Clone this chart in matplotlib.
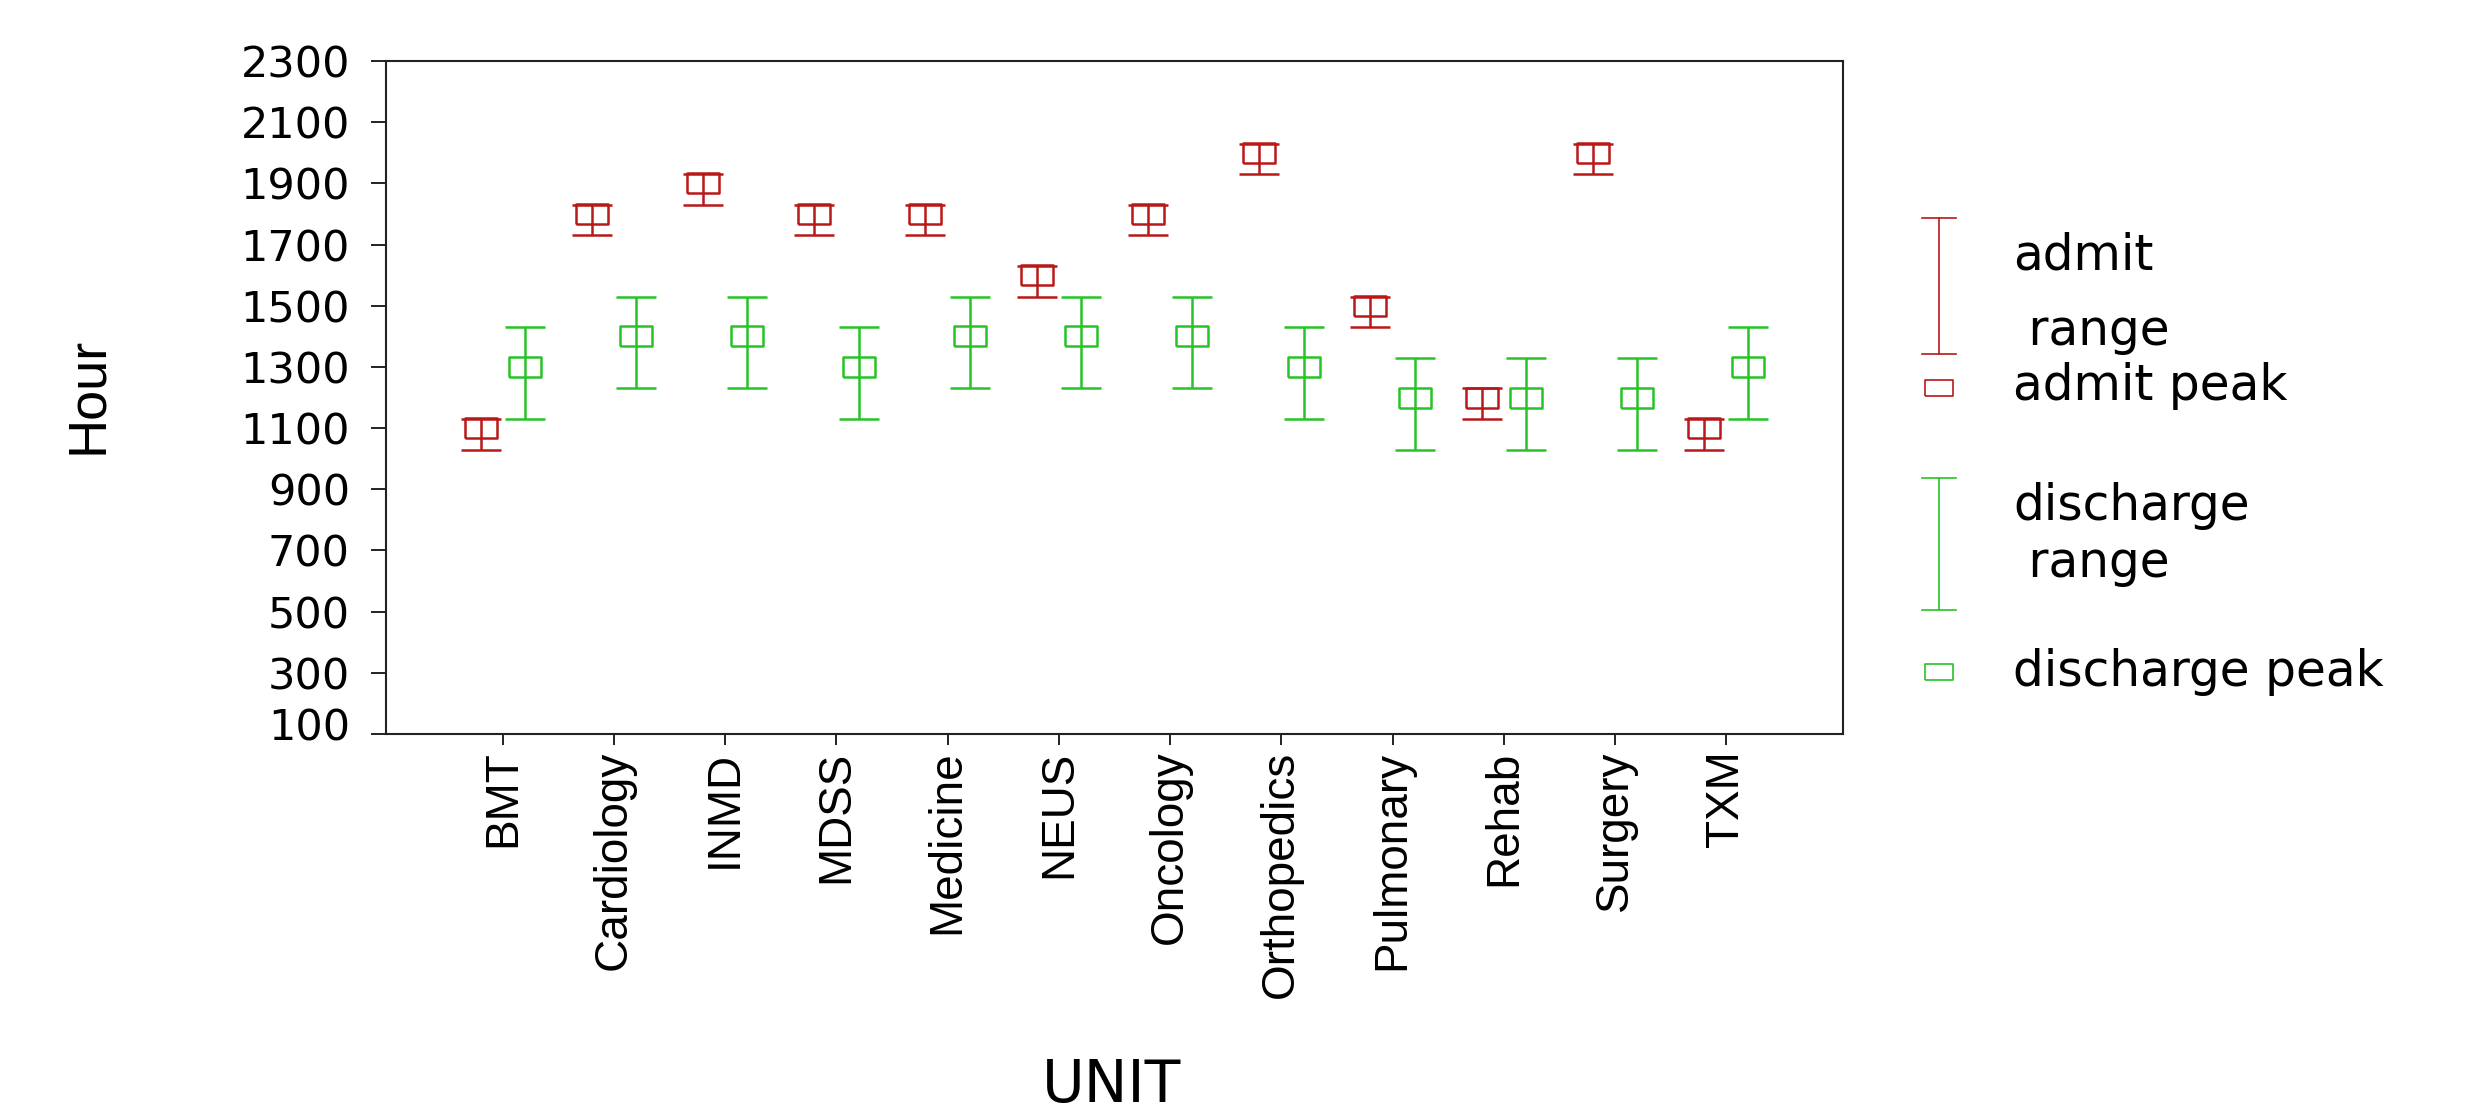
import matplotlib
matplotlib.use("Agg")
import matplotlib.pyplot as plt
from matplotlib.lines import Line2D
from matplotlib.transforms import ScaledTranslation
import numpy as np

# data
units = ["BMT", "Cardiology", "INMD", "MDSS", "Medicine", "NEUS", "Oncology",
         "Orthopedics", "Pulmonary", "Rehab", "Surgery", "TXM"]
admit_peak = [1100, 1800, 1900, 1800, 1800, 1600, 1800, 2000, 1500, 1200, 2000, 1100]
admit_low = [1030, 1730, 1830, 1730, 1730, 1530, 1730, 1930, 1430, 1130, 1930, 1030]
admit_high = [1130, 1830, 1930, 1830, 1830, 1630, 1830, 2030, 1530, 1230, 2030, 1130]
discharge_peak = [1300, 1400, 1400, 1300, 1400, 1400, 1400, 1300, 1200, 1200, 1200, 1300]
discharge_low = [1130, 1230, 1230, 1130, 1230, 1230, 1230, 1130, 1030, 1030, 1030, 1130]
discharge_high = [1430, 1530, 1530, 1430, 1530, 1530, 1530, 1430, 1330, 1330, 1330, 1430]
y_ticks = list(range(100, 2301, 200))

RED = "#b81818"
GREEN = "#26c426"
BOX = [(-1, -0.6), (1, -0.6), (1, 0.6), (-1, 0.6), (-1, -0.6)]
W, H = 2481, 1116

plt.rcParams["font.family"] = ["DejaVu Sans"]

fig = plt.figure(figsize=(W / 100, H / 100), dpi=100)
ax = fig.add_axes([386 / W, 1 - 734 / H, (1843 - 386) / W, (734 - 61) / H])
x = np.arange(len(units))


def fx(px):
    return px / W


def fy(py):
    return 1 - py / H


def draw_series(offset, peak, low, high, color):
    peak = np.array(peak)
    yerr = [peak - np.array(low), np.array(high) - peak]
    ax.errorbar(x + offset, peak, yerr=yerr, fmt="none", ecolor=color,
                elinewidth=1.8, capsize=14.5, capthick=1.8)
    ax.plot(x + offset, peak, linestyle="none", marker=BOX, markersize=23,
            markerfacecolor="none", markeredgecolor=color, markeredgewidth=1.8)


draw_series(-0.2, admit_peak, admit_low, admit_high, RED)
draw_series(0.2, discharge_peak, discharge_low, discharge_high, GREEN)

ax.set_xlim(-1.05, 12.05)
ax.set_ylim(100, 2300)
ax.set_xticks(x, units, rotation=90, fontfamily="Liberation Sans", fontsize=33)
ax.set_yticks(y_ticks, [str(v) for v in y_ticks], fontsize=31)
ax.tick_params(axis="y", length=11, width=1.4, pad=15, colors="#222222",
               labelcolor="black")
ax.tick_params(axis="x", length=8, width=1.4, pad=4, colors="#222222",
               labelcolor="black")
for s in ax.spines.values():
    s.set_linewidth(1.5)
    s.set_color("#222222")

# SPSS draws the lowest label a little above its tick
lbl = ax.get_yticklabels()[0]
lbl.set_transform(lbl.get_transform() + ScaledTranslation(0, 0.10, fig.dpi_scale_trans))

ax.set_ylabel("Hour", fontfamily="Liberation Sans", fontsize=39, va="center")
ax.yaxis.set_label_coords((88 - 386) / 1457, (734 - 395) / 673)
ax.set_xlabel("UNIT", fontsize=42, va="bottom")
ax.xaxis.set_label_coords((1112 - 386) / 1457, (734 - 1114) / 673)

# legend drawn by hand to mimic the SPSS layout
def legend_bar(xc, top, bottom, color):
    fig.add_artist(Line2D([fx(xc), fx(xc)], [fy(top), fy(bottom)], color=color, lw=1.2))
    for yy in (top, bottom):
        fig.add_artist(Line2D([fx(xc - 17), fx(xc + 17)], [fy(yy), fy(yy)],
                              color=color, lw=1.2))


def legend_box(xc, yc, color):
    fig.add_artist(Line2D([fx(xc)], [fy(yc)], marker=BOX, markersize=20,
                          markerfacecolor="none", markeredgecolor=color,
                          markeredgewidth=1.2, linestyle="none"))


legend_bar(1939, 218, 354, RED)
legend_box(1939, 388, RED)
legend_bar(1939, 478, 610, GREEN)
legend_box(1939, 672, GREEN)

for txt, yy in [("admit", 256), (" range", 331), ("admit peak", 386),
                ("discharge", 506), (" range", 563), ("discharge peak", 672)]:
    fig.text(fx(2013), fy(yy), txt, fontsize=35, va="center", ha="left")

fig.savefig("out.png", dpi=100, facecolor="white")
